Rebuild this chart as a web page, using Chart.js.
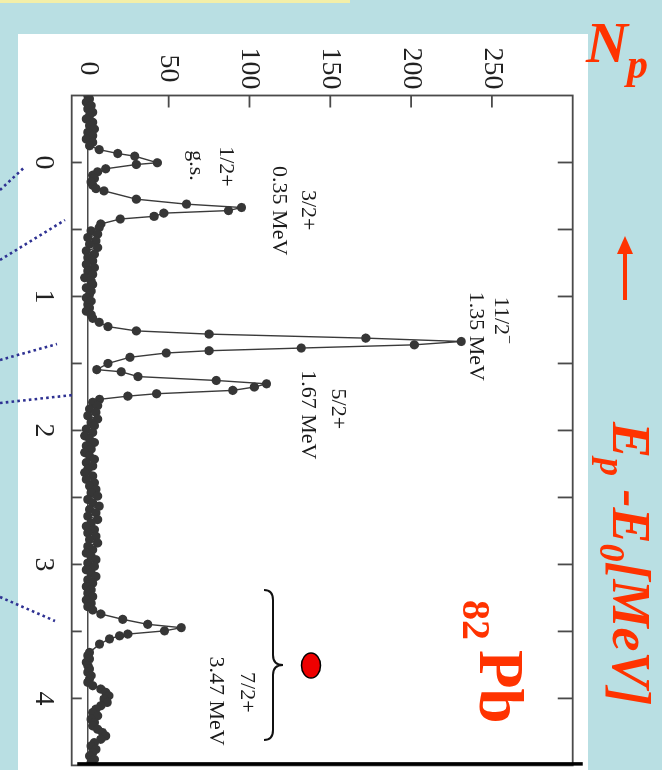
<!DOCTYPE html>
<html><head><meta charset="utf-8">
<script src="https://cdn.jsdelivr.net/npm/chart.js@4.4.0/dist/chart.umd.min.js"></script>
<style>
html,body{margin:0;padding:0}
body{width:662px;height:770px;background:#b9dfe3;position:relative;overflow:hidden}
#yellow{position:absolute;left:0;top:0;width:350px;height:3px;background:#f3efa8}
#panel{position:absolute;left:18px;top:34px;width:570px;height:736px;background:#fff}
#wrap{position:absolute;left:0;top:0;width:770px;height:662px;transform-origin:0 0;transform:translate(662px,0) rotate(90deg)}
#ov{position:absolute;left:0;top:0;pointer-events:none}
</style></head><body>
<div id="yellow"></div><div id="panel"></div>
<div id="wrap"><canvas id="c" width="770" height="662"></canvas></div>
<svg id="ov" width="662" height="770" xmlns="http://www.w3.org/2000/svg">
  <g stroke="#2e3192" stroke-width="2.6" stroke-dasharray="2.6 3.2" fill="none">
    <line x1="0" y1="190" x2="25" y2="166.7"/>
    <line x1="0" y1="260" x2="65" y2="220"/>
    <line x1="0" y1="360" x2="57" y2="344"/>
    <line x1="0" y1="403" x2="73" y2="395"/>
    <line x1="0" y1="597" x2="55" y2="621"/>
  </g>
  <path d="M264,590 Q273,590 273,600 L273,655 Q273,665 283,665 Q273,665 273,675 L273,730 Q273,740 264,740" stroke="#111" stroke-width="2" fill="none"/>
  <ellipse cx="311" cy="665.5" rx="9.5" ry="12.5" fill="#ee0000" stroke="#000" stroke-width="1.5"/>
  <line x1="625" y1="300" x2="625" y2="250" stroke="#ff3300" stroke-width="4"/>
  <polygon points="617,254 633,254 625,236" fill="#ff3300"/>
  <g font-family="Liberation Serif" font-weight="bold" fill="#ff3300">
    <text x="586" y="62" font-size="58" font-style="italic">N</text>
    <text x="627" y="78" font-size="42" font-style="italic">p</text>
    <text transform="translate(613,422) rotate(90)" font-size="54" font-style="italic">E<tspan font-size="36" dy="13">p</tspan><tspan dy="-13"> -E</tspan><tspan font-size="36" dy="13">0</tspan><tspan dy="-13">[MeV]</tspan></text>
    <text transform="translate(463,600) rotate(90)" font-size="40">82</text>
    <text transform="translate(480,650) rotate(90)" font-size="63">Pb</text>
  </g>
</svg>
<script>
// Spectrum: proton energy Ep-E0 [MeV] and counts Np
const energyMeV = [
 -0.5,-0.475,-0.45,-0.425,-0.4,-0.375,-0.35,-0.325,-0.3,-0.275,-0.25,-0.225,-0.2,-0.175,-0.15,-0.125,
 -0.096,-0.067,-0.047,0.002,0.015,0.047,
 0.07,0.095,0.12,0.145,0.17,0.195,
 0.212,0.274,0.311,0.336,0.359,0.378,0.402,0.422,0.459,
 0.485,0.51,0.535,0.56,0.585,0.61,0.635,0.66,0.685,0.71,0.735,0.76,0.785,0.81,0.835,0.86,0.885,0.91,0.935,0.96,0.985,1.01,1.035,1.06,1.085,1.11,1.135,1.163,1.193,
 1.225,1.257,1.281,1.311,1.336,1.361,1.385,1.405,1.422,1.454,1.5,1.546,
 1.562,1.598,1.627,1.652,1.676,1.701,1.726,1.744,1.768,
 1.79,1.815,1.84,1.865,1.89,1.915,1.94,1.965,1.99,2.015,2.04,2.065,2.09,2.115,2.14,2.165,2.19,2.215,2.24,2.265,2.29,2.315,2.34,2.365,2.39,2.415,2.44,2.465,2.49,2.515,2.54,2.565,2.59,2.615,2.64,2.665,2.69,2.715,2.74,2.765,2.79,2.815,2.84,2.865,2.89,2.915,2.94,2.965,2.99,3.015,3.04,3.065,3.09,3.115,3.14,3.165,3.19,3.215,3.24,3.265,3.29,3.315,3.34,
 3.37,3.41,3.447,3.472,3.496,3.52,3.533,3.556,3.595,3.657,
 3.68,3.705,3.73,3.755,3.78,3.805,3.83,3.855,3.88,3.905,3.93,3.955,3.98,4.005,4.03,4.055,4.08,4.105,4.13,4.155,4.18,4.205,4.23,4.255,4.28,4.305,4.33,4.355,4.38,4.405,4.43,4.455,4.48
];
const countsNp = [
 0,1,-1,2,0,3,1,-1,3,1,4,0,3,-1,3,1,
 7,18.5,29,43,30,11,
 6,3,4,2,3,5,
 10,30,61,95,87,47,41,20,8,
 7,2,6,0,5,1,6,-1,4,0,3,-1,4,0,3,-2,2,3,-1,2,1,-1,2,0,1,-1,2,3,7,
 12.4,30,75,172,231,202,132,75,48.5,26,12.4,5.5,
 20.6,31,79.4,110.5,103,89.7,42.5,24.7,7.2,
 3,6,1,5,0,6,2,4,-1,3,-2,1,4,-1,2,-2,1,4,-1,3,0,-2,3,-1,4,1,5,2,6,0,3,7,1,5,0,6,2,-1,4,0,5,1,6,0,3,-1,2,5,0,4,-1,2,5,0,3,-1,2,0,3,-1,2,0,3,
 8,21.6,37,57.8,47.4,24.7,19.6,13.4,7.2,1,
 0,1,-1,0,1,0,2,1,0,3,8,11,13,10,12,8,5,3,6,2,4,3,6,9,11,8,4,2,5,3,1,4,2
];
const npTickLabels = [0,50,100,150,200,250];
const eTickLabels = [0,1,2,3,4];
const eMinorTicks = [0,0.5,1,1.5,2,2.5,3,3.5,4];
const peakLabels = [
 {lines:['1/2+','g.s.'], E:[0.030,0.023], Np:[81.8,63.2]},
 {lines:['3/2+','0.35 MeV'], E:[0.356,0.36], Np:[132.5,114.6]},
 {lines:['11/2','1.35 MeV'], E:[1.179,1.298], Np:[252,236.5], sup:'\u2212'},
 {lines:['5/2+','1.67 MeV'], E:[1.839,1.883], Np:[151,132.5]},
 {lines:['7/2+','3.47 MeV'], E:[3.955,4.02], Np:[94.8,75.6]}
];

const framePlugin = {
  id:'frame',
  beforeDatasetsDraw(chart){
    const {ctx, chartArea:a, scales:{x,y}} = chart;
    ctx.save();
    ctx.strokeStyle='#4a4a4a'; ctx.lineWidth=1.8;
    ctx.strokeRect(a.left, a.top, a.right-a.left, a.bottom-a.top);
    const y0 = y.getPixelForValue(0);
    ctx.lineWidth=1.5; ctx.beginPath(); ctx.moveTo(a.left,y0); ctx.lineTo(a.right,y0); ctx.stroke();
    ctx.lineWidth=1.8;
    npTickLabels.forEach(v=>{ if(v===0) return; const p=y.getPixelForValue(v); ctx.beginPath(); ctx.moveTo(a.left,p); ctx.lineTo(a.left+12,p); ctx.stroke(); });
    eMinorTicks.forEach(v=>{ const p=x.getPixelForValue(v); ctx.beginPath(); ctx.moveTo(p,a.bottom); ctx.lineTo(p,a.bottom-10); ctx.moveTo(p,a.top); ctx.lineTo(p,a.top+15); ctx.stroke(); });
    ctx.restore();
  },
  afterDatasetsDraw(chart){
    const {ctx, chartArea:a, scales:{x,y}} = chart;
    ctx.save();
    ctx.strokeStyle='#000'; ctx.lineWidth=3.5;
    ctx.beginPath(); ctx.moveTo(a.right-1.5, y.getPixelForValue(-6.5)); ctx.lineTo(a.right-1.5, a.top-10); ctx.stroke();
    ctx.fillStyle='#1a1a1a'; ctx.font='22px "Liberation Serif"'; ctx.textBaseline='alphabetic';
    peakLabels.forEach(L=>{
      L.lines.forEach((t,i)=>{
        const px=x.getPixelForValue(L.E[i]), py=y.getPixelForValue(L.Np[i]);
        if(i===0 && L.sup){
          const w=ctx.measureText(t).width; ctx.font='16px "Liberation Serif"'; const ws=ctx.measureText(L.sup).width;
          ctx.font='22px "Liberation Serif"'; ctx.textAlign='left';
          ctx.fillText(t, px-(w+ws)/2, py);
          ctx.font='16px "Liberation Serif"'; ctx.fillText(L.sup, px-(w+ws)/2+w, py-9);
          ctx.font='22px "Liberation Serif"';
        } else { ctx.textAlign='center'; ctx.fillText(t, px, py); }
      });
    });
    ctx.restore();
  }
};

const tickFont = {family:'"Liberation Serif"', size:28};
new Chart(document.getElementById('c'), {
  type:'scatter',
  data:{datasets:[{
    data: energyMeV.map((e,i)=>({x:e, y:countsNp[i]})),
    showLine:true, borderColor:'#3a3a3a', borderWidth:1.4,
    pointRadius:4.6, pointBackgroundColor:'#363636', pointBorderWidth:0, pointHoverRadius:4.6
  }]},
  options:{
    responsive:false, animation:false, devicePixelRatio:1,
    layout:{padding:{top:89.3, left:0, right:0, bottom:0}},
    plugins:{legend:{display:false}, tooltip:{enabled:false}},
    events:[],
    scales:{
      x:{type:'linear', position:'bottom', min:-0.5, max:4.5,
        grid:{display:false, drawTicks:false}, border:{display:false},
        ticks:{font:tickFont, color:'#222', padding:12, maxRotation:0, minRotation:0, autoSkip:false},
        afterBuildTicks:s=>{ s.ticks = eTickLabels.map(v=>({value:v})); },
        afterFit:s=>{ s.height = 71.7; }
      },
      y:{type:'linear', position:'left', min:-10, max:300,
        grid:{display:false, drawTicks:false}, border:{display:false},
        ticks:{font:tickFont, color:'#222', padding:6, crossAlign:'center', autoSkip:false},
        afterBuildTicks:s=>{ s.ticks = npTickLabels.map(v=>({value:v})); },
        afterFit:s=>{ s.width = 95.5; }
      }
    }
  },
  plugins:[framePlugin]
});
</script>
</body></html>
